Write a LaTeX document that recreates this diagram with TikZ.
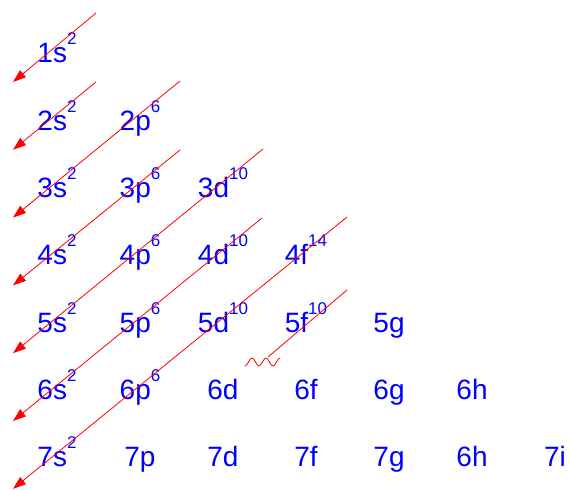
\documentclass[tikz,border=0pt]{standalone}
\usepackage{fontspec}
\setmainfont{Liberation Sans}
\usetikzlibrary{arrows.meta}
\definecolor{orbblue}{HTML}{0000FF}
\definecolor{fillred}{HTML}{FF0000}
\newcommand{\orb}[2]{#1\raisebox{18pt}{\fontsize{17}{17}\selectfont #2}}

\begin{document}
\begin{tikzpicture}[x=1pt,y=-1pt,
  orbital/.style={anchor=base,inner sep=0pt,text=orbblue,font=\fontsize{28}{28}\selectfont},
  fillline/.style={draw=fillred,line width=0.8pt,-{Triangle[length=13pt,width=9pt]}},
  cutline/.style={draw=fillred,line width=0.8pt}]
  \useasboundingbox (0,0) rectangle (569,489);
  \clip (0,0) rectangle (569,489);

  % Orbitals (column, row)
  \foreach \nm/\col/\row/\txt in {
      s1/0/0/{\orb{1s}{2}},
      s2/0/1/{\orb{2s}{2}}, p2/1/1/{\orb{2p}{6}},
      s3/0/2/{\orb{3s}{2}}, p3/1/2/{\orb{3p}{6}}, d3/2/2/{\orb{3d}{10}},
      s4/0/3/{\orb{4s}{2}}, p4/1/3/{\orb{4p}{6}}, d4/2/3/{\orb{4d}{10}}, f4/3/3/{\orb{4f}{14}},
      s5/0/4/{\orb{5s}{2}}, p5/1/4/{\orb{5p}{6}}, d5/2/4/{\orb{5d}{10}}, f5/3/4/{\orb{5f}{10}}, g5/4/4/{5g},
      s6/0/5/{\orb{6s}{2}}, p6/1/5/{\orb{6p}{6}}, d6/2/5/{6d}, f6/3/5/{6f}, g6/4/5/{6g}, h6/5/5/{6h},
      s7/0/6/{\orb{7s}{2}}, p7/1/6/{7p}, d7/2/6/{7d}, f7/3/6/{7f}, g7/4/6/{7g}, h7/5/6/{6h}, i7/6/6/{7i}}
    \node[orbital] (\nm) at (57+83*\col, 63+67.3*\row) {\txt};

  % Filling order
  \foreach \i/\x/\y in {1/96/13, 2/96/82, 3/180/81, 4/180/150, 5/263/149, 6/262/218, 7/347/217} {
    \coordinate (top\i) at (\x,\y);
    \coordinate (tip\i) at (13, 82+67.8*\i-67.8);
    \draw[fillline] (top\i) -- (tip\i);
  }
  \coordinate (top8) at (347,290);
  \coordinate (end8) at (268,357);
  \draw[cutline] (top8) -- (end8);
  \draw[cutline] (245,366) cos (248.5,362) sin (252,358) cos (255.5,362) sin (259,366)
    cos (262.5,362) sin (266,358) cos (269.5,362) sin (273,366) cos (276.5,362) sin (280,358);
\end{tikzpicture}
\end{document}
